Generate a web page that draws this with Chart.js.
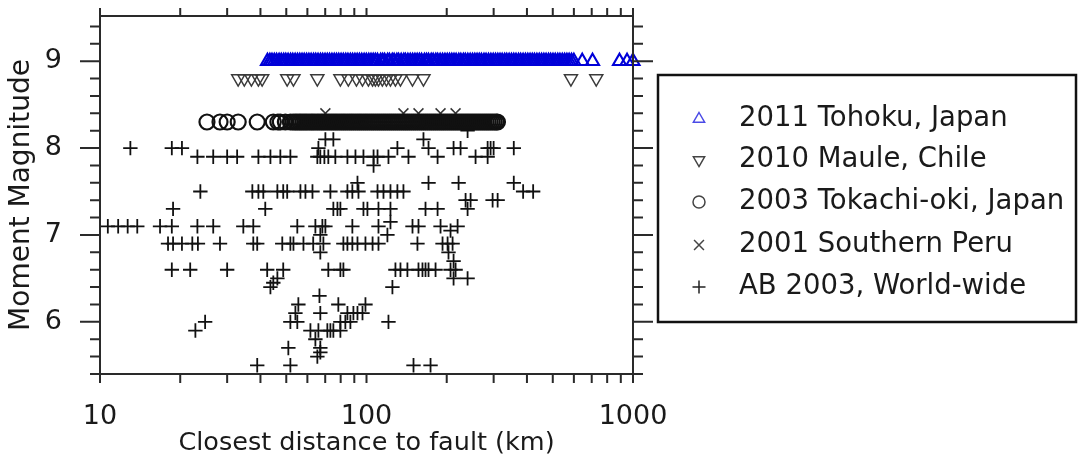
<!DOCTYPE html>
<html><head><meta charset="utf-8">
<script src="https://cdn.jsdelivr.net/npm/chart.js@4.4.0/dist/chart.umd.min.js"></script>
<style>html,body{margin:0;padding:0;background:#fff;}#wrap{width:1078px;height:469px;position:relative;}</style>
</head><body><div id="wrap"><canvas id="c"></canvas></div>
<script>
// ---------- data ----------
const seriesLabels = ['2011 Tohoku, Japan', '2010 Maule, Chile', '2003 Tokachi-oki, Japan', '2001 Southern Peru', 'AB 2003, World-wide'];

const tohokuMag = 9.0;
const tohokuDist = [42.5, 43.4, 44.2, 45.1, 46.0, 47.0, 47.9, 48.9, 49.8, 50.8, 51.9, 52.9, 54.0, 55.1, 56.2, 57.3, 58.4, 59.6, 60.8, 62.0, 63.3, 64.5, 65.8, 67.2, 68.5, 69.9, 71.3, 72.7, 74.2, 75.7, 77.2, 78.7, 80.3, 81.9, 83.6, 85.2, 87.0, 88.7, 90.5, 92.3, 94.1, 96.0, 98.0, 99.9, 102, 104, 106, 108, 110, 113, 115, 117, 120, 122, 125, 127, 130, 132, 135, 138, 140, 143, 146, 149, 152, 155, 158, 161, 165, 168, 171, 175, 178, 182, 185, 189, 193, 197, 201, 205, 209, 213, 217, 222, 226, 231, 235, 240, 245, 250, 255, 260, 265, 270, 276, 281, 287, 293, 299, 305, 311, 317, 323, 330, 336, 343, 350, 357, 364, 372, 379, 387, 395, 403, 411, 419, 427, 436, 445, 454, 463, 472, 482, 491, 501, 511, 522, 532, 543, 554, 565, 576, 588, 600, 645, 705, 890, 950, 1000];

const mauleMag = 8.8;
const mauleDist = [33.0, 34.8, 37.0, 39.3, 40.6, 50.4, 53.2, 65.4, 79.8, 85.5, 91.7, 96.6, 101.7, 105.4, 108, 110.9, 114.7, 118.8, 123, 128.4, 134.1, 148.8, 163.6, 585, 728];

const tokachiMag = 8.3;
const tokachiDist = [25.2, 28.2, 30.0, 33.0, 38.9, 44.7, 46.5, 47.5, 49.6, 51.8, 53.0, 54.0, 54.9, 55.9, 56.8, 57.8, 58.8, 59.8, 60.9, 62.0, 63.0, 64.1, 65.3, 66.4, 67.6, 68.7, 69.9, 71.2, 72.4, 73.7, 75.0, 76.3, 77.6, 79.0, 80.4, 81.8, 83.2, 84.7, 86.2, 87.7, 89.2, 90.8, 92.4, 94.0, 95.6, 97.3, 99.0, 100.7, 102.5, 104.3, 106.1, 108.0, 109.9, 111.8, 113.8, 115.8, 117.8, 119.9, 122.0, 124.1, 126.3, 128.5, 130.8, 133.0, 135.4, 137.8, 140.2, 142.6, 145.1, 147.7, 150.3, 152.9, 155.6, 158.3, 161.1, 163.9, 166.8, 169.7, 172.7, 175.7, 178.8, 181.9, 185.1, 188.4, 191.7, 195.0, 198.4, 201.9, 205.5, 209.1, 212.8, 216.5, 220.3, 224.2, 228.1, 232.1, 236.2, 240.3, 244.5, 248.8, 253.2, 257.6, 262.1, 266.7, 271.4, 276.2, 281.0, 285.9, 290.9, 296.0, 301.2, 306.5, 310];

const peruMag = 8.4;
const peruDist = [70.1, 137.6, 156.7, 189.6, 215.9];

const abDist = [
  239.5,
  70.1, 75.1, 163.6,
  13.0, 18.6, 20.3, 66.0, 130.6, 170.9, 212.2, 225.4, 284.8, 292.2, 299.9, 357,
  23.2, 26.6, 30.0, 32.7, 39.3, 43.6, 47.5, 51.8, 65.4, 67.1, 69.5, 71.9, 76.4, 84.8, 90.9, 97.4, 106.3, 110.0, 120.9, 143.7, 184.8, 256.6, 284.8,
  106.3,
  92.5, 170.9, 221.6, 357,
  23.8, 37.3, 39.3, 41.0, 46.3, 48.7, 50.4, 56.5, 59.0, 62.7, 73.2, 84.8, 88.5, 93.3, 110.0, 115.8, 123.0, 130.6, 137.6, 387, 422,
  235.4, 245.8, 297.3, 310.5,
  18.8, 41.7, 75.1, 77.8, 79.8, 97.4, 100.8, 110.9, 123.0, 166.5, 184.8, 239.5,
  10.7, 11.7, 12.7, 13.8, 16.8, 18.6, 23.2, 26.6, 34.5, 37.6, 55.0, 64.3, 68.3, 70.1, 88.5, 110.9, 123.0, 148.8, 156.7, 189.6, 219.7,
  67.1, 119.8, 206.7,
  18.0, 18.8, 20.3, 22.2, 23.3, 28.2, 37.6, 38.9, 48.3, 51.8, 53.2, 58.0, 63.1, 68.9, 81.9, 84.8, 88.5, 92.5, 99.1, 105.4, 110.9, 155.3, 192.9, 201.5, 210.4,
  67.1, 203.1,
  212.2,
  18.6, 21.8, 30.0, 42.4, 48.7, 71.9, 79.8, 81.9, 128.4, 134.1, 142.4, 156.7, 162.2, 166.5, 170.9, 181.6, 206.7, 215.9,
  46.3, 212.2, 239.5,
  44.7,
  43.6, 125.1,
  66.6,
  55.5, 78.4, 99.1,
  54.1, 67.1, 84.8, 89.3, 92.5, 96.6,
  24.8, 51.8, 55.0, 79.8, 83.3, 87.0, 120.9,
  22.8, 61.6, 66.0, 71.3, 73.2, 75.1, 79.8,
  64.3,
  50.9, 67.1,
  65.4, 67.1,
  38.9, 51.8, 150.1, 173.9
];
const abMag = [
  8.2,
  8.1, 8.1, 8.1,
  8.0, 8.0, 8.0, 8.0, 8.0, 8.0, 8.0, 8.0, 8.0, 8.0, 8.0, 8.0,
  7.9, 7.9, 7.9, 7.9, 7.9, 7.9, 7.9, 7.9, 7.9, 7.9, 7.9, 7.9, 7.9, 7.9, 7.9, 7.9, 7.9, 7.9, 7.9, 7.9, 7.9, 7.9, 7.9,
  7.8,
  7.6, 7.6, 7.6, 7.6,
  7.5, 7.5, 7.5, 7.5, 7.5, 7.5, 7.5, 7.5, 7.5, 7.5, 7.5, 7.5, 7.5, 7.5, 7.5, 7.5, 7.5, 7.5, 7.5, 7.5, 7.5,
  7.4, 7.4, 7.4, 7.4,
  7.3, 7.3, 7.3, 7.3, 7.3, 7.3, 7.3, 7.3, 7.3, 7.3, 7.3, 7.3,
  7.1, 7.1, 7.1, 7.1, 7.1, 7.1, 7.1, 7.1, 7.1, 7.1, 7.1, 7.1, 7.1, 7.1, 7.1, 7.1, 7.15, 7.1, 7.1, 7.1, 7.1,
  7.0, 7.0, 7.05,
  6.9, 6.9, 6.9, 6.9, 6.9, 6.9, 6.9, 6.9, 6.9, 6.9, 6.9, 6.9, 6.9, 6.9, 6.9, 6.9, 6.9, 6.9, 6.9, 6.9, 6.9, 6.9, 6.9, 6.9, 6.9,
  6.8, 6.8,
  6.7,
  6.6, 6.6, 6.6, 6.6, 6.6, 6.6, 6.6, 6.6, 6.6, 6.6, 6.6, 6.6, 6.6, 6.6, 6.6, 6.6, 6.6, 6.6,
  6.5, 6.5, 6.5,
  6.45,
  6.4, 6.4,
  6.3,
  6.2, 6.2, 6.2,
  6.1, 6.1, 6.1, 6.1, 6.1, 6.1,
  6.0, 6.0, 6.0, 6.0, 6.0, 6.0, 6.0,
  5.9, 5.9, 5.9, 5.9, 5.9, 5.9, 5.9,
  5.8,
  5.7, 5.7,
  5.6, 5.65,
  5.5, 5.5, 5.5, 5.5
];

const xTickLabels = [10, 100, 1000];
const xMinorTicks = [20, 30, 40, 50, 60, 70, 80, 90, 200, 300, 400, 500, 600, 700, 800, 900];
const yTickLabels = [6, 7, 8, 9];
const yMinorTicks = [5.4, 5.6, 5.8, 6.2, 6.4, 6.6, 6.8, 7.2, 7.4, 7.6, 7.8, 8.2, 8.4, 8.6, 8.8, 9.2, 9.4];

// ---------- helpers ----------
const FONT = '"DejaVu Sans", "Liberation Sans", Arial, sans-serif';
const constPts = (dist, mag) => dist.map(d => ({x: d, y: mag}));

function drawMarker(ctx, style, x, y, r, color, lw) {
  ctx.save();
  ctx.strokeStyle = color; ctx.lineWidth = lw;
  ctx.beginPath();
  if (style === 'triangle') {
    ctx.moveTo(x, y - r); ctx.lineTo(x + r * 0.866, y + r / 2); ctx.lineTo(x - r * 0.866, y + r / 2); ctx.closePath();
  } else if (style === 'triangleDown') {
    ctx.moveTo(x, y + r); ctx.lineTo(x + r * 0.866, y - r / 2); ctx.lineTo(x - r * 0.866, y - r / 2); ctx.closePath();
  } else if (style === 'circle') {
    ctx.arc(x, y, r, 0, Math.PI * 2);
  } else if (style === 'crossRot') {
    const d = r * 0.707;
    ctx.moveTo(x - d, y - d); ctx.lineTo(x + d, y + d); ctx.moveTo(x + d, y - d); ctx.lineTo(x - d, y + d);
  } else {
    ctx.moveTo(x - r, y); ctx.lineTo(x + r, y); ctx.moveTo(x, y - r); ctx.lineTo(x, y + r);
  }
  ctx.stroke();
  ctx.restore();
}

const legendStyles = [
  {style: 'triangle', r: 6.5, color: '#4a4ae6', lw: 1.5},
  {style: 'triangleDown', r: 6.5, color: '#444', lw: 1.5},
  {style: 'circle', r: 6, color: '#444', lw: 1.5},
  {style: 'crossRot', r: 7, color: '#444', lw: 1.5},
  {style: 'cross', r: 6.5, color: '#222', lw: 1.5}
];

const framePlugin = {
  id: 'frameTicks',
  afterDatasetsDraw(chart) {
    const {ctx, chartArea: a, scales: {x, y}} = chart;
    ctx.save();
    ctx.strokeStyle = '#2a2a2a';
    ctx.lineWidth = 2;
    ctx.strokeRect(a.left, a.top, a.right - a.left, a.bottom - a.top);
    ctx.beginPath();
    const yt = (v, len) => {
      const py = y.getPixelForValue(v);
      ctx.moveTo(a.left, py); ctx.lineTo(a.left - len, py);
      ctx.moveTo(a.right, py); ctx.lineTo(a.right + len, py);
    };
    yTickLabels.forEach(v => yt(v, 20));
    yMinorTicks.forEach(v => yt(v, 10));
    const xt = v => {
      const px = x.getPixelForValue(v);
      ctx.moveTo(px, a.top); ctx.lineTo(px, a.top - 8);
      ctx.moveTo(px, a.bottom); ctx.lineTo(px, a.bottom + 9);
    };
    xTickLabels.forEach(xt);
    xMinorTicks.forEach(xt);
    ctx.stroke();
    ctx.restore();
  }
};

const legendPlugin = {
  id: 'boxLegend',
  afterDraw(chart) {
    const ctx = chart.ctx;
    ctx.save();
    ctx.strokeStyle = '#111';
    ctx.lineWidth = 2.5;
    ctx.strokeRect(658, 75, 418, 247);
    const rows = [119, 160, 202, 245, 287];
    ctx.font = '27.5px ' + FONT;
    ctx.fillStyle = '#1a1a1a';
    ctx.textBaseline = 'middle';
    ctx.textAlign = 'left';
    chart.data.datasets.forEach((ds, i) => {
      const s = legendStyles[i];
      drawMarker(ctx, s.style, 699, rows[i], s.r, s.color, s.lw);
      ctx.fillText(ds.label, 739, rows[i]);
    });
    ctx.restore();
  }
};

new Chart(document.getElementById('c'), {
  type: 'scatter',
  data: {
    datasets: [
      {label: seriesLabels[0], data: constPts(tohokuDist, tohokuMag), pointStyle: 'triangle', pointRadius: 7.5, borderColor: '#0000d8', backgroundColor: 'rgba(0,0,0,0)', borderWidth: 2.1, clip: false},
      {label: seriesLabels[1], data: constPts(mauleDist, mauleMag), pointStyle: 'triangle', rotation: 180, pointRadius: 7.5, borderColor: '#3a3a3a', backgroundColor: 'rgba(0,0,0,0)', borderWidth: 1.5, clip: false},
      {label: seriesLabels[2], data: constPts(tokachiDist, tokachiMag), pointStyle: 'circle', pointRadius: 7.5, borderColor: '#111', backgroundColor: 'rgba(0,0,0,0)', borderWidth: 2.2, clip: false},
      {label: seriesLabels[3], data: constPts(peruDist, peruMag), pointStyle: 'crossRot', pointRadius: 7, borderColor: '#333', backgroundColor: 'rgba(0,0,0,0)', borderWidth: 1.5, clip: false},
      {label: seriesLabels[4], data: abDist.map((d, i) => ({x: d, y: abMag[i]})), pointStyle: 'cross', pointRadius: 7.2, borderColor: '#111', backgroundColor: 'rgba(0,0,0,0)', borderWidth: 1.8, clip: false}
    ]
  },
  options: {
    responsive: true,
    maintainAspectRatio: false,
    animation: false,
    events: [],
    layout: {padding: {top: 16, right: 445, left: 0, bottom: 0}},
    plugins: {legend: {display: false}, tooltip: {enabled: false}},
    scales: {
      x: {
        type: 'logarithmic', min: 10, max: 1000, position: 'bottom',
        grid: {display: false, drawTicks: false}, border: {display: false},
        afterBuildTicks: s => { s.ticks = xTickLabels.map(v => ({value: v})); },
        afterFit: s => { s.height = 95; s.paddingLeft = 0; s.paddingRight = 0; },
        ticks: {autoSkip: false, maxRotation: 0, padding: 27, color: '#1a1a1a', font: {family: FONT, size: 27}, callback: v => String(v)},
        title: {display: true, text: 'Closest distance to fault (km)', color: '#1a1a1a', font: {family: FONT, size: 25.5}, padding: {top: 0, bottom: 10}}
      },
      y: {
        type: 'linear', min: 5.4, max: 9.52, position: 'left',
        grid: {display: false, drawTicks: false}, border: {display: false},
        afterBuildTicks: s => { s.ticks = yTickLabels.map(v => ({value: v})); },
        afterFit: s => { s.width = 100; s.paddingTop = 0; s.paddingBottom = 0; },
        ticks: {padding: 38, color: '#1a1a1a', font: {family: FONT, size: 27}, callback: v => String(v)},
        title: {display: true, text: 'Moment Magnitude', color: '#1a1a1a', font: {family: FONT, size: 28}, padding: {top: 5, bottom: 0}}
      }
    }
  },
  plugins: [framePlugin, legendPlugin]
});
</script>
</body></html>
